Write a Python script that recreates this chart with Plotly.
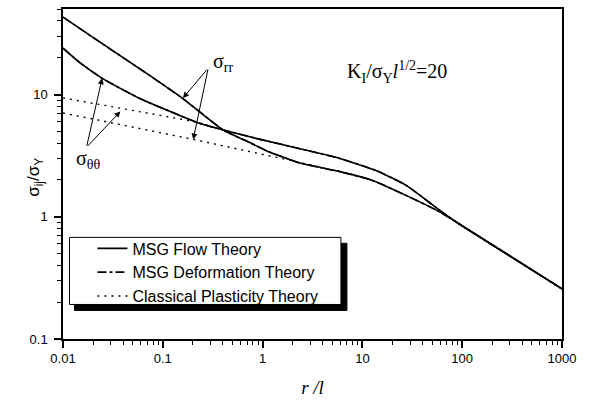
import plotly.graph_objects as go

# ---- data (r/l, sigma/sigma_Y) ----
r_rr_msg = [0.01, 0.0237, 0.075, 0.160, 0.403, 0.75, 1.10, 2.37, 5.96, 12.8, 27.7, 59.6, 94.4, 237, 1000]
s_rr_msg = [43.0, 26.7, 14.2, 9.23, 5.13, 4.04, 3.46, 2.75, 2.34, 1.975, 1.49, 1.096, 0.868, 0.540, 0.257]

r_tt_msg = [0.01, 0.01496, 0.0247, 0.0596, 0.1496, 0.237, 0.403, 0.944, 2.37, 5.96, 13.87, 27.7, 59.6, 94.4, 237, 1000]
s_tt_msg = [24.0, 18.06, 13.58, 9.23, 6.72, 5.79, 5.13, 4.30, 3.60, 3.00, 2.38, 1.80, 1.129, 0.868, 0.540, 0.257]

r_rr_cl = [0.01, 0.2018, 2.37, 5.96]
s_rr_cl = [7.07, 4.30, 2.78, 2.34]

r_tt_cl = [0.01, 0.0406, 0.22, 0.403]
s_tt_cl = [9.4, 7.66, 5.95, 5.13]

x_tickvals = [0.01, 0.1, 1, 10, 100, 1000]
x_ticktext = ["0.01", "0.1", "1", "10", "100", "1000"]
y_tickvals = [0.1, 1, 10]
y_ticktext = ["0.1", "1", "10"]

SANS = "Liberation Sans, Arial, sans-serif"
SERIF = "Liberation Serif, Times New Roman, serif"

fig = go.Figure()

SM = 0.5
# MSG deformation theory (coincides with flow theory, drawn beneath)
fig.add_trace(go.Scatter(x=r_rr_msg, y=s_rr_msg, mode="lines", name="MSG Deformation Theory",
                         line=dict(color="black", width=1.6, dash="dashdot", shape="spline", smoothing=SM),
                         legendgroup="def", legendrank=2, showlegend=True))
fig.add_trace(go.Scatter(x=r_tt_msg, y=s_tt_msg, mode="lines", name="MSG Deformation Theory",
                         line=dict(color="black", width=1.6, dash="dashdot", shape="spline", smoothing=SM),
                         legendgroup="def", showlegend=False))
# Classical plasticity
fig.add_trace(go.Scatter(x=r_rr_cl, y=s_rr_cl, mode="lines", name="Classical Plasticity Theory",
                         line=dict(color="black", width=1.4, dash="2px,5px"),
                         legendgroup="cl", legendrank=3, showlegend=True))
fig.add_trace(go.Scatter(x=r_tt_cl, y=s_tt_cl, mode="lines", name="Classical Plasticity Theory",
                         line=dict(color="black", width=1.4, dash="2px,5px"),
                         legendgroup="cl", showlegend=False))
# MSG flow theory
fig.add_trace(go.Scatter(x=r_rr_msg, y=s_rr_msg, mode="lines", name="MSG Flow Theory",
                         line=dict(color="black", width=1.6, shape="spline", smoothing=SM),
                         legendgroup="flow", legendrank=1, showlegend=True))
fig.add_trace(go.Scatter(x=r_tt_msg, y=s_tt_msg, mode="lines", name="MSG Flow Theory",
                         line=dict(color="black", width=1.6, shape="spline", smoothing=SM),
                         legendgroup="flow", showlegend=False))

L, R, T, B = 62.5, 28.5, 7.5, 60.0
W, H = 591, 402
pw, ph = W - L - R, H - T - B

def px2paper(px, py):
    return (px - L) / pw, (H - B - py) / ph

# legend box + shadow
sx0, sy1 = px2paper(74, 245)
sx1, sy0 = px2paper(347, 313)
bx0, by1 = px2paper(69, 239)
bx1, by0 = px2paper(341, 307)
fig.add_shape(type="rect", xref="paper", yref="paper", x0=sx0, x1=sx1, y0=sy0, y1=sy1,
              fillcolor="black", line=dict(color="black", width=1), layer="above")
fig.add_shape(type="rect", xref="paper", yref="paper", x0=bx0, x1=bx1, y0=by0, y1=by1,
              fillcolor="white", line=dict(color="black", width=1), layer="above")

lx, ly = px2paper(92, 233)

# arrows (log10 coordinates)
arrows = [
    # sigma_rr
    dict(x=-0.798, y=0.971, ax=-0.545, ay=1.216),
    dict(x=-0.695, y=0.633, ax=-0.545, ay=1.216),
    # sigma_thetatheta
    dict(x=-1.608, y=1.133, ax=-1.765, ay=0.568),
    dict(x=-1.425, y=0.862, ax=-1.765, ay=0.568),
]
for a in arrows:
    fig.add_annotation(x=a["x"], y=a["y"], ax=a["ax"], ay=a["ay"], xref="x", yref="y",
                       axref="x", ayref="y", text="", showarrow=True,
                       arrowhead=2, arrowsize=1.2, arrowwidth=1, arrowcolor="black")

fig.add_annotation(x=-0.40, y=1.265, xref="x", yref="y", text="σ<sub>rr</sub>",
                   showarrow=False, font=dict(family=SERIF, size=20, color="black"))
fig.add_annotation(x=-1.745, y=0.471, xref="x", yref="y", text="σ<sub>θθ</sub>",
                   showarrow=False, font=dict(family=SERIF, size=20, color="black"))
kx, ky = px2paper(449, 55)
fig.add_annotation(x=kx, y=ky, xref="paper", yref="paper",
                   text="K<sub>I</sub>/σ<sub>Y</sub><i>l</i><sup>1/2</sup>=20",
                   showarrow=False, font=dict(family=SERIF, size=20, color="black"))
tx, ty = px2paper(22, 178)
fig.add_annotation(x=tx, y=ty, xref="paper", yref="paper", text="σ<sub>ij</sub>/σ<sub>Y</sub>",
                   textangle=-90, showarrow=False, font=dict(family=SANS, size=17, color="black"))

minor_x = [m * 10 ** e for e in range(-2, 3) for m in range(2, 10)]
minor_y = [m * 10 ** e for e in range(-1, 2) for m in range(2, 10) if m * 10 ** e <= 50]

fig.update_xaxes(type="log", range=[-2, 3], tickvals=x_tickvals, ticktext=x_ticktext,
                 ticks="outside", ticklen=7, tickwidth=1.5, tickcolor="black",
                 showline=True, linecolor="black", linewidth=1.5, mirror=True,
                 showgrid=False, zeroline=False,
                 minor=dict(tickvals=minor_x, ticks="outside", ticklen=4, tickwidth=1.2,
                            tickcolor="black", showgrid=False),
                 tickfont=dict(family=SANS, size=13, color="black"),
                 title=dict(text="<i>r /l</i>", font=dict(family=SERIF, size=19, color="black"),
                            standoff=15))
fig.update_yaxes(type="log", range=[-1, 1.7], tickvals=y_tickvals, ticktext=y_ticktext,
                 ticks="outside", ticklen=7, tickwidth=1.5, tickcolor="black",
                 showline=True, linecolor="black", linewidth=1.5, mirror=True,
                 showgrid=False, zeroline=False, ticklabelstandoff=4,
                 minor=dict(tickvals=minor_y, ticks="outside", ticklen=4, tickwidth=1.2,
                            tickcolor="black", showgrid=False),
                 tickfont=dict(family=SANS, size=13, color="black"))

fig.update_layout(
    width=W, height=H,
    margin=dict(l=L, r=R, t=T, b=B),
    paper_bgcolor="white", plot_bgcolor="white",
    showlegend=True,
    legend=dict(x=lx, y=ly, xanchor="left", yanchor="top", bgcolor="rgba(0,0,0,0)",
                borderwidth=0, font=dict(family=SANS, size=16, color="black"),
                traceorder="normal"),
)

fig.write_html("out.html", config={"displayModeBar": False},
               post_script="document.body.style.margin='0px';document.body.style.overflow='hidden';")
